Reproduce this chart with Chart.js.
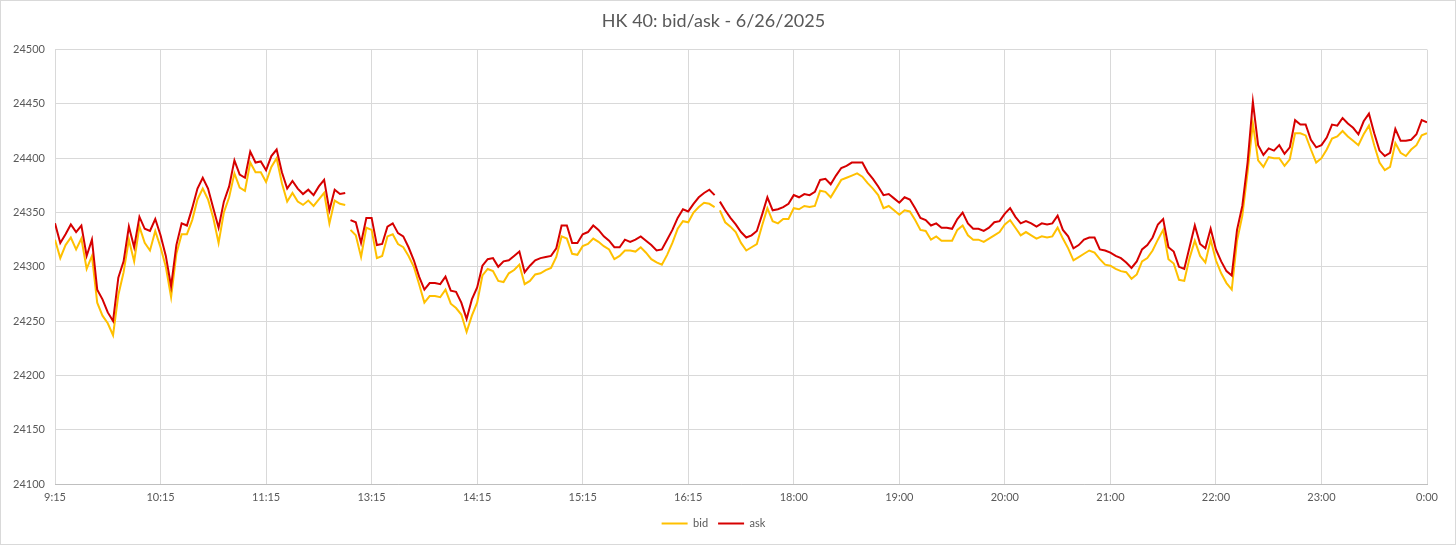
<!DOCTYPE html>
<html>
<head>
<meta charset="utf-8">
<script src="https://cdn.jsdelivr.net/npm/chart.js@4/dist/chart.umd.min.js"></script>
<style>
html,body{margin:0;padding:0;background:#fff;}
#wrap{width:1456px;height:545px;position:relative;}
</style>
</head>
<body>
<div id="wrap"><canvas id="c" width="1456" height="545"></canvas></div>
<script>
const chartTitle = "HK 40: bid/ask - 6/26/2025";
const tickLabels = ["9:15","10:15","11:15","13:15","14:15","15:15","16:15","18:00","19:00","20:00","21:00","22:00","23:00","0:00"];
const pointsPerTick = 20;
const yTicks = {min: 24100, max: 24500, step: 50};
// data breaks: no line between point i and i+1
const gapAfter = [55, 125];

const ask = [
24340,24322,24330,24339,24332,24338,24310,24325,24279,24270,
24258,24250,24290,24305,24337,24318,24346,24335,24333,24344,
24329,24310,24282,24320,24340,24338,24354,24372,24382,24372,
24354,24336,24360,24374,24398,24385,24382,24406,24396,24397,
24389,24402,24408,24387,24372,24379,24372,24367,24371,24366,
24374,24380,24352,24371,24367,24368,24343,24341,24322,24345,
24345,24320,24321,24337,24340,24331,24328,24318,24306,24291,
24279,24285,24285,24284,24291,24278,24277,24267,24252,24270,
24281,24301,24307,24308,24300,24305,24306,24310,24314,24295,
24301,24306,24308,24309,24310,24317,24338,24338,24322,24322,
24330,24332,24338,24334,24328,24324,24318,24318,24325,24323,
24325,24328,24324,24320,24315,24316,24325,24334,24345,24353,
24351,24358,24364,24368,24371,24366,24360,24352,24345,24339,
24332,24327,24329,24333,24348,24364,24352,24353,24355,24358,
24366,24364,24367,24366,24369,24380,24381,24376,24384,24391,
24393,24396,24396,24396,24387,24381,24374,24366,24367,24363,
24359,24364,24362,24354,24345,24343,24338,24340,24336,24336,
24335,24344,24350,24340,24335,24335,24333,24336,24341,24342,
24349,24354,24346,24340,24342,24340,24337,24340,24339,24340,
24347,24334,24328,24317,24320,24325,24327,24327,24316,24315,
24313,24310,24308,24304,24299,24305,24316,24320,24327,24339,
24344,24318,24314,24300,24298,24318,24338,24321,24317,24335,
24316,24305,24296,24292,24334,24356,24396,24452,24412,24403,
24409,24407,24412,24404,24410,24435,24431,24431,24417,24410,
24412,24419,24431,24430,24437,24432,24428,24422,24434,24441,
24423,24407,24402,24405,24427,24416,24416,24417,24422,24435,
24433
];

const bid = [
24325,24308,24320,24327,24316,24326,24298,24310,24267,24255,
24248,24237,24274,24295,24325,24305,24337,24322,24315,24333,
24318,24300,24272,24312,24330,24330,24343,24362,24372,24362,
24345,24322,24350,24364,24386,24373,24370,24396,24387,24387,
24378,24392,24400,24377,24360,24368,24360,24357,24361,24356,
24362,24368,24340,24361,24358,24357,24334,24329,24309,24336,
24334,24308,24310,24328,24330,24321,24318,24310,24300,24284,
24267,24273,24273,24272,24279,24266,24262,24256,24240,24255,
24267,24292,24298,24296,24287,24286,24294,24297,24302,24284,
24287,24293,24294,24297,24299,24309,24328,24326,24312,24311,
24319,24321,24326,24323,24319,24316,24307,24310,24315,24315,
24314,24318,24313,24307,24304,24302,24311,24322,24335,24342,
24341,24350,24355,24359,24358,24355,24352,24341,24337,24332,
24322,24315,24318,24321,24338,24354,24342,24340,24344,24344,
24354,24353,24356,24355,24356,24370,24369,24364,24372,24380,
24382,24384,24386,24383,24377,24372,24366,24354,24356,24352,
24348,24352,24351,24343,24334,24333,24325,24328,24324,24324,
24324,24334,24338,24329,24325,24325,24323,24326,24329,24332,
24339,24343,24336,24329,24332,24329,24326,24328,24327,24328,
24336,24326,24317,24306,24309,24312,24315,24313,24307,24302,
24301,24298,24296,24295,24289,24293,24305,24308,24315,24325,
24334,24307,24303,24288,24287,24308,24324,24310,24304,24325,
24306,24294,24285,24279,24324,24347,24387,24432,24398,24392,
24401,24400,24400,24393,24399,24423,24423,24421,24408,24396,
24400,24408,24418,24420,24425,24420,24416,24412,24422,24430,
24412,24396,24389,24392,24414,24405,24402,24408,24412,24421,
24423
];

const toPoints = arr => arr.map((v, i) => ({x: i, y: v}));
const FONT = "Lato, 'Open Sans', sans-serif";
const TXT = "#595959";
const BID_C = '#FFC000';
const ASK_C = '#D60000';

const segStyle = color => ({
  borderColor: ctx => gapAfter.includes(ctx.p0DataIndex) ? 'rgba(0,0,0,0)' : color
});

const frame = {
  id: 'frame',
  beforeDraw(chart) {
    const c = chart.ctx;
    c.save();
    c.fillStyle = '#fff';
    c.fillRect(0, 0, chart.width, chart.height);
    c.strokeStyle = '#d9d9d9';
    c.lineWidth = 1;
    c.strokeRect(0.5, 0.5, chart.width - 1, chart.height - 1);
    c.restore();
  }
};

new Chart(document.getElementById('c'), {
  type: 'line',
  data: {
    datasets: [
      {label: 'bid', data: toPoints(bid), borderColor: BID_C, backgroundColor: BID_C, borderWidth: 2, pointRadius: 0, tension: 0, order: 2, segment: segStyle(BID_C)},
      {label: 'ask', data: toPoints(ask), borderColor: ASK_C, backgroundColor: ASK_C, borderWidth: 2, pointRadius: 0, tension: 0, order: 1, segment: segStyle(ASK_C)}
    ]
  },
  options: {
    responsive: false,
    animation: false,
    layout: {padding: {left: 0, right: 29, top: 0, bottom: 6}},
    plugins: {
      title: {display: true, text: chartTitle, color: TXT, font: {family: FONT, size: 18, weight: 'normal'}, padding: {top: 10, bottom: 18}},
      legend: {
        position: 'bottom',
        labels: {color: TXT, font: {family: FONT, size: 11}, usePointStyle: true, pointStyle: 'line', pointStyleWidth: 26, boxHeight: 11, padding: 10,
          sort: (a, b) => a.datasetIndex - b.datasetIndex}
      },
      tooltip: {enabled: false}
    },
    scales: {
      x: {
        type: 'linear',
        min: 0,
        max: (tickLabels.length - 1) * pointsPerTick,
        afterFit: s => { s.height = 24; },
        afterBuildTicks: s => { s.ticks = tickLabels.map((_, i) => ({value: i * pointsPerTick})); },
        ticks: {color: TXT, font: {family: FONT, size: 11}, padding: 7, maxRotation: 0, autoSkip: false,
          callback: v => tickLabels[Math.round(v / pointsPerTick)]},
        grid: {color: '#d9d9d9', drawTicks: false},
        border: {color: '#bfbfbf'}
      },
      y: {
        min: yTicks.min,
        max: yTicks.max,
        afterFit: s => { s.width = 55; },
        ticks: {stepSize: yTicks.step, color: TXT, font: {family: FONT, size: 11}, padding: 10,
          callback: v => String(v)},
        grid: {color: '#d9d9d9', drawTicks: false},
        border: {display: false}
      }
    }
  },
  plugins: [frame]
});
</script>
</body>
</html>
